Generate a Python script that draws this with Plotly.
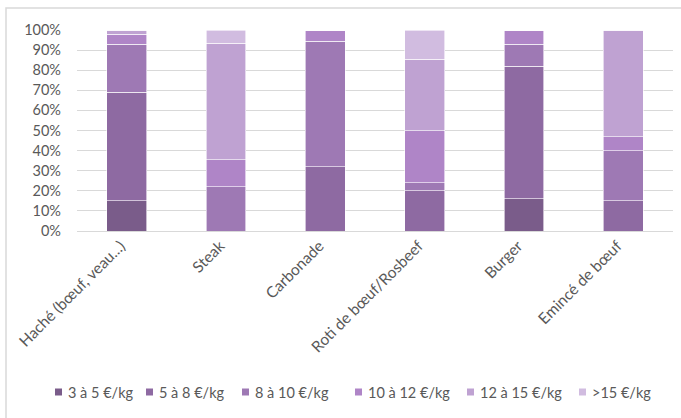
import plotly.graph_objects as go

categories = ["Haché (bœuf, veau...)", "Steak", "Carbonade",
              "Roti de bœuf/Rosbeef", "Burger", "Emincé de bœuf"]

series_names = ["3 à 5 €/kg", "5 à 8 €/kg", "8 à 10 €/kg",
                "10 à 12 €/kg", "12 à 15 €/kg", ">15 €/kg"]

share_3_5 = [15, 0, 0, 0, 16, 0]
share_5_8 = [54, 0, 32, 20, 66, 15]
share_8_10 = [24, 22, 62.5, 4, 11, 25]
share_10_12 = [5, 13.5, 5.5, 26, 7, 7]
share_12_15 = [2, 58, 0, 35.5, 0, 53]
share_over_15 = [0, 6.5, 0, 14.5, 0, 0]

series_values = [share_3_5, share_5_8, share_8_10,
                 share_10_12, share_12_15, share_over_15]

colors = ["#7A5C8A", "#8E6AA2", "#9E79B4", "#AF85C7", "#BFA2D2", "#D1BCE0"]

text_color = "#595959"
font_family = "Lato, 'Open Sans', sans-serif"
font_size = 14.5

# figure geometry in pixels
W, H = 681, 418
ML, MR, MT, MB = 77, 8, 30, 187
PW, PH = W - ML - MR, H - MT - MB


def px_x(px):
    return (px - ML) / PW


def px_y(py):
    return (H - MB - py) / PH


fig = go.Figure()
for name, vals, col in zip(series_names, series_values, colors):
    fig.add_trace(go.Bar(
        x=categories,
        y=[v / 100 for v in vals],
        name=name,
        marker=dict(color=col, line=dict(color="white", width=0.6)),
        width=0.4,
        showlegend=False,
    ))

# legend row drawn as small colour squares with labels
legend_left = [55, 146, 242, 355, 467, 579]
legend_cy = 392
sq = 7
shapes = [dict(
    type="rect", xref="paper", yref="paper",
    x0=px_x(6), x1=1.2, y0=-2, y1=px_y(8),
    line=dict(color="#D9D9D9", width=1.5),
    fillcolor="rgba(0,0,0,0)", layer="below",
)]
annotations = []
for name, col, lx in zip(series_names, colors, legend_left):
    shapes.append(dict(
        type="rect", xref="paper", yref="paper",
        x0=px_x(lx), x1=px_x(lx + sq),
        y0=px_y(legend_cy + sq / 2), y1=px_y(legend_cy - sq / 2),
        line=dict(width=0), fillcolor=col,
    ))
    annotations.append(dict(
        xref="paper", yref="paper",
        x=px_x(lx + sq + 4), y=px_y(legend_cy),
        xanchor="left", yanchor="middle",
        text=name, showarrow=False,
        font=dict(size=font_size, color=text_color, family=font_family),
    ))

fig.update_layout(
    barmode="stack",
    width=W,
    height=H,
    margin=dict(l=ML, r=MR, t=MT, b=MB),
    paper_bgcolor="white",
    plot_bgcolor="white",
    font=dict(family=font_family, size=font_size, color=text_color),
    showlegend=False,
    xaxis=dict(
        tickangle=-45,
        showgrid=False,
        showline=False,
        ticks="",
        automargin=False,
        ticklabelshift=-6,
        ticklabelstandoff=2,
        tickfont=dict(size=15.5, color=text_color),
    ),
    yaxis=dict(
        range=[0, 1],
        tickvals=[i / 10 for i in range(11)],
        tickformat=".0%",
        showgrid=True,
        gridcolor="#D9D9D9",
        gridwidth=1,
        zeroline=True,
        zerolinecolor="#D9D9D9",
        zerolinewidth=1,
        ticks="",
        automargin=False,
        ticklabelstandoff=15,
        tickfont=dict(size=font_size, color=text_color),
    ),
    shapes=shapes,
    annotations=annotations,
)

fig.write_html("out.html")
